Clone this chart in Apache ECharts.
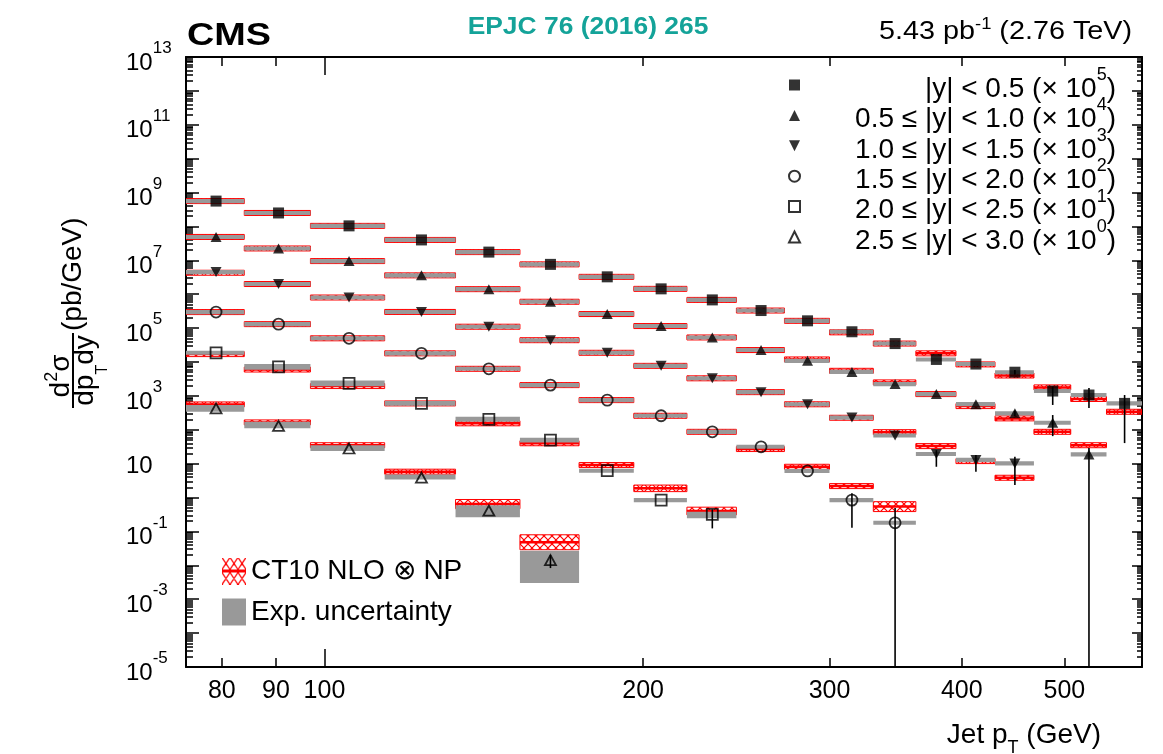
<!DOCTYPE html>
<html><head><meta charset="utf-8">
<script src="https://cdn.jsdelivr.net/npm/echarts@6/dist/echarts.min.js"></script>
<style>html,body{margin:0;padding:0;background:#fff}#c{width:1163px;height:754px}</style>
</head><body><div id="c"></div>
<script>
// ---------------- data ----------------
const binEdges = [74, 84, 97, 114, 133, 153, 174, 196, 220, 245, 272, 300, 330, 362, 395, 430, 468, 507, 548, 592];
const rapidityLabels = ['|y| < 0.5', '0.5 ≤ |y| < 1.0', '1.0 ≤ |y| < 1.5', '1.5 ≤ |y| < 2.0', '2.0 ≤ |y| < 2.5', '2.5 ≤ |y| < 3.0'];
const scaleExponents = [5, 4, 3, 2, 1, 0];
const xTickLabels = [80, 90, 100, 200, 300, 400, 500];
const yTickLabels = [1e-5, 1e-3, 1e-1, 1e1, 1e3, 1e5, 1e7, 1e9, 1e11, 1e13];

// measured d2sigma/dpT dy (pb/GeV), as plotted (already multiplied by the legend factor)
const xsec_y0 = [5.6e8, 2.5e8, 1.04e8, 4.0e7, 1.75e7, 7.6e6, 3.26e6, 1.44e6, 6.8e5, 3.3e5, 1.64e5, 7.8e4, 3.5e4, 1.19e4, 8.7e3, 5.0e3, 1.39e3, 1.06e3, 600];
const xsec_y1 = [4.9e7, 2.24e7, 9.5e6, 3.6e6, 1.41e6, 6.0e5, 2.6e5, 1.15e5, 5.3e4, 2.25e4, 1.08e4, 5.1e3, 2.23e3, 1.13e3, 570, 305, 161, 18.8];
const xsec_y2 = [4.5e6, 2.0e6, 8.0e5, 3.0e5, 1.1e5, 4.4e4, 1.87e4, 7.7e3, 3.3e3, 1.29e3, 565, 229, 67.5, 19.2, 12.9, 10.2];
const xsec_y3 = [2.97e5, 1.31e5, 5.0e4, 1.8e4, 6.3e3, 2.08e3, 750, 259, 87, 31.5, 6.1, 0.84, 0.18];
const xsec_y4 = [1.87e4, 7.2e3, 2.34e3, 600, 204, 49.7, 6.2, 0.84, 0.32];
const xsec_y5 = [428, 131, 28, 3.9, 0.41, 0.0143];

// CT10 NLO x NP prediction (same scaling)
const theory_y0 = [5.6e8, 2.5e8, 1.04e8, 4.0e7, 1.75e7, 7.6e6, 3.26e6, 1.44e6, 6.8e5, 3.3e5, 1.64e5, 7.5e4, 3.5e4, 1.8e4, 8.5e3, 4.0e3, 1.78e3, 810, 340];
const theory_y1 = [4.9e7, 2.24e7, 9.5e6, 3.6e6, 1.41e6, 6.0e5, 2.6e5, 1.15e5, 5.3e4, 2.25e4, 1.19e4, 5.5e3, 2.5e3, 1.13e3, 500, 217, 87, 35];
const theory_y2 = [4.3e6, 2.0e6, 8.0e5, 3.0e5, 1.1e5, 4.4e4, 1.87e4, 7.7e3, 3.3e3, 1.29e3, 565, 226, 85, 33, 11.9, 3.84];
const theory_y3 = [2.97e5, 1.31e5, 5.0e4, 1.8e4, 6.3e3, 2.08e3, 750, 259, 87, 27, 8.1, 2.18, 0.54];
const theory_y4 = [1.71e4, 6.0e3, 1.95e3, 600, 155, 40, 9.1, 1.87, 0.40];
const theory_y5 = [560, 165, 35, 5.8, 0.64, 0.048];

// theory uncertainty (%)
const thUnc_y0 = [5, 5, 5, 5, 5, 5, 5, 5, 5, 5, 5, 5, 5, 8, 8, 8, 8, 8, 10];
const thUnc_y1 = [5, 5, 5, 5, 5, 5, 5, 5, 5, 5, 5, 5, 5, 5, 8, 8, 10, 10];
const thUnc_y2 = [5, 5, 5, 5, 5, 5, 5, 5, 5, 5, 5, 5, 10, 18, 10, 10];
const thUnc_y3 = [5, 5, 5, 5, 5, 5, 5, 5, 5, 8, 8, 12, 40];
const thUnc_y4 = [5, 5, 5, 5, 5, 5, 12, 25, 30];
const thUnc_y5 = [5, 5, 6, 18, 37, 66];

// experimental uncertainty, up / down (%)
const expUp_y0 = [15, 15, 15, 15, 15, 15, 15, 15, 15, 15, 15, 15, 15, 15, 15, 15, 15, 15, 15];
const expDn_y0 = [13, 13, 13, 13, 13, 13, 13, 13, 13, 13, 13, 13, 13, 13, 13, 13, 13, 13, 13];
const expUp_y1 = [15, 15, 15, 15, 15, 15, 15, 15, 15, 15, 15, 15, 15, 15, 15, 15, 15, 15];
const expDn_y1 = [13, 13, 13, 13, 13, 13, 13, 13, 13, 13, 13, 13, 13, 13, 13, 13, 13, 13];
const expUp_y2 = [15, 15, 15, 15, 15, 15, 15, 15, 15, 15, 15, 15, 15, 15, 15, 15];
const expDn_y2 = [13, 13, 13, 13, 13, 13, 13, 13, 13, 13, 13, 13, 13, 13, 13, 13];
const expUp_y3 = [15, 15, 15, 15, 15, 15, 15, 15, 15, 15, 15, 15, 15];
const expDn_y3 = [13, 13, 13, 13, 13, 13, 13, 13, 13, 13, 13, 13, 13];
const expUp_y4 = [15, 22, 22, 18, 18, 18, 15, 15, 19];
const expDn_y4 = [13, 18, 18, 15, 15, 15, 13, 13, 24];
const expUp_y5 = [25, 31, 25, 23, 44, 88];
const expDn_y5 = [21, 16, 15, 13, 36, 79];

// statistical error bars: [rapidity bin, pT bin, low, high]
const statBars = [
  [0, 15, 4300, 5800], [0, 16, 540, 1880], [0, 17, 437, 1700], [0, 18, 40.5, 1060],
  [1, 15, 250, 370], [1, 16, 65, 272], [1, 17, 1e-7, 28.8],
  [2, 13, 8.1, 25], [2, 14, 5.8, 17.9], [2, 15, 2.34, 16],
  [3, 11, 0.128, 1.33], [3, 12, 1e-7, 0.49],
  [4, 8, 0.123, 0.45],
  [5, 5, 0.0083, 0.0201]
];

const xsec = [xsec_y0, xsec_y1, xsec_y2, xsec_y3, xsec_y4, xsec_y5];
const theory = [theory_y0, theory_y1, theory_y2, theory_y3, theory_y4, theory_y5];
const thUnc = [thUnc_y0, thUnc_y1, thUnc_y2, thUnc_y3, thUnc_y4, thUnc_y5];
const expUp = [expUp_y0, expUp_y1, expUp_y2, expUp_y3, expUp_y4, expUp_y5];
const expDn = [expDn_y0, expDn_y1, expDn_y2, expDn_y3, expDn_y4, expDn_y5];

// ---------------- styling ----------------
const FONT = 'Liberation Sans';
const RED = '#ff0000';
const GREY = '#999999';
const markerSymbols = ['rect', 'triangle', 'path://M0,0L2,0L1,2Z', 'circle', 'rect', 'triangle'];
const markerFilled = [true, true, true, false, false, false];
const seriesNames = rapidityLabels.map((l, k) => l + ' (× 10^' + scaleExponents[k] + ')');
const theoryName = 'CT10 NLO ⊗ NP';
const expName = 'Exp. uncertainty';

const binCenters = binEdges.slice(0, -1).map((e, i) => (e + binEdges[i + 1]) / 2);

// hatch pattern
const hatch = document.createElement('canvas');
hatch.width = 8; hatch.height = 8;
(function () {
  const g = hatch.getContext('2d');
  g.strokeStyle = RED; g.lineWidth = 1.2;
  g.beginPath(); g.moveTo(0, 0); g.lineTo(8, 8); g.moveTo(8, 0); g.lineTo(0, 8); g.stroke();
})();
const hatchPattern = { image: hatch, repeat: 'repeat' };

// legend icon for theory
const thIcon = document.createElement('canvas');
thIcon.width = 24; thIcon.height = 27;
(function () {
  const g = thIcon.getContext('2d');
  g.strokeStyle = RED; g.lineWidth = 1.3;
  g.beginPath();
  for (let r = 0; r < 2; r++) {
    const y0 = r === 0 ? 0 : 15;
    for (let c = 0; c < 3; c++) {
      const x0 = c * 8;
      g.moveTo(x0, y0); g.lineTo(x0 + 8, y0 + 12);
      g.moveTo(x0 + 8, y0); g.lineTo(x0, y0 + 12);
    }
  }
  g.stroke();
  g.fillStyle = RED; g.fillRect(0, 12, 24, 3);
})();

// ---------------- derived mark data ----------------
const theoryData = [], expData = [], statData = [];
for (let k = 0; k < 6; k++) {
  for (let i = 0; i < xsec[k].length; i++) {
    const t = theory[k][i], u = thUnc[k][i] / 100;
    theoryData.push([binEdges[i], binEdges[i + 1], t / (1 + u), t * (1 + u), t]);
    const v = xsec[k][i];
    expData.push([binEdges[i], binEdges[i + 1], v * (1 - expDn[k][i] / 100), v * (1 + expUp[k][i] / 100)]);
  }
}
statBars.forEach(b => statData.push([binCenters[b[1]], b[2], b[3]]));

function renderTheory(params, api) {
  const x0 = api.value(0), x1 = api.value(1), lo = api.value(2), hi = api.value(3), c = api.value(4);
  const pA = api.coord([x0, hi]), pB = api.coord([x1, lo]), pC = api.coord([x0, c]);
  let top = pA[1], bot = pB[1];
  if (bot - top < 5) { const m = pC[1]; top = m - 2.5; bot = m + 2.5; }
  return {
    type: 'group', children: [
      { type: 'rect', shape: { x: pA[0], y: top, width: pB[0] - pA[0], height: bot - top }, style: { fill: hatchPattern, stroke: RED, lineWidth: 1 } },
      { type: 'line', shape: { x1: pA[0], y1: pC[1], x2: pB[0], y2: pC[1] }, style: { stroke: RED, lineWidth: 2.5 } }
    ]
  };
}
function renderExp(params, api) {
  const x0 = api.value(0), x1 = api.value(1), lo = api.value(2), hi = api.value(3);
  const pA = api.coord([x0, hi]), pB = api.coord([x1, lo]);
  let top = pA[1], bot = pB[1];
  if (bot - top < 3) { const m = (top + bot) / 2; top = m - 1.5; bot = m + 1.5; }
  return { type: 'rect', shape: { x: pA[0], y: top, width: pB[0] - pA[0], height: bot - top }, style: { fill: GREY } };
}
function renderStat(params, api) {
  const x = api.value(0), lo = api.value(1), hi = api.value(2);
  const p1 = api.coord([x, hi]), p2 = api.coord([x, lo]);
  return { type: 'line', shape: { x1: p1[0], y1: p1[1], x2: p2[0], y2: p2[1] }, style: { stroke: '#000', lineWidth: 1.6 } };
}

// decade & minor tick values (tick positions on log axes)
const decades = [1e-5, 1e-4, 1e-3, 1e-2, 1e-1, 1, 1e1, 1e2, 1e3, 1e4, 1e5, 1e6, 1e7, 1e8, 1e9, 1e10, 1e11, 1e12, 1e13];
const minors = [];
decades.slice(0, -1).forEach(d => { for (let m = 2; m <= 9; m++) minors.push(Number((d * m).toPrecision(3))); });

const xBase = { type: 'log', logBase: 10, min: 74, max: 592, gridIndex: 0, splitLine: { show: false }, axisLabel: { show: false }, axisLine: { show: false, onZero: false } };
const yBase = { type: 'log', logBase: 10, min: 1e-5, max: 1e13, gridIndex: 0, splitLine: { show: false }, axisLabel: { show: false }, axisLine: { show: false, onZero: false } };
const axisLineStyle = { show: true, onZero: false, lineStyle: { color: '#000', width: 2 } };
const tickStyle = { color: '#000', width: 1.5 };

const option = {
  animation: false,
  backgroundColor: '#fff',
  textStyle: { fontFamily: FONT },
  grid: { left: 186, right: 21, top: 57, bottom: 87, containLabel: false, outerBoundsMode: 'none' },
  xAxis: [
    Object.assign({}, xBase, {
      position: 'bottom', axisLine: axisLineStyle,
      axisTick: { show: true, inside: true, length: 9, customValues: [80, 90, 200, 300, 400, 500], lineStyle: tickStyle },
      axisLabel: { show: true, customValues: xTickLabels, fontSize: 25, color: '#000', margin: 12, fontFamily: FONT, formatter: v => String(Math.round(v)) },
      name: '{a|Jet p}{b|T}{a| (GeV)}', nameLocation: 'end', nameGap: -41, nameMoveOverlap: false,
      nameTextStyle: { align: 'right', verticalAlign: 'middle', padding: [136, 0, 0, 0], color: '#000',
        rich: { a: { fontSize: 28, fontFamily: FONT, color: '#000' }, b: { fontSize: 18, fontFamily: FONT, color: '#000', padding: [27, 0, 0, 0] } } }
    }),
    Object.assign({}, xBase, { position: 'bottom', axisTick: { show: true, inside: true, length: 18, customValues: [100], lineStyle: tickStyle } }),
    Object.assign({}, xBase, { position: 'top', axisLine: axisLineStyle, axisTick: { show: true, inside: true, length: 9, customValues: [80, 90, 200, 300, 400, 500], lineStyle: tickStyle } }),
    Object.assign({}, xBase, { position: 'top', axisTick: { show: true, inside: true, length: 18, customValues: [100], lineStyle: tickStyle } })
  ],
  yAxis: [
    Object.assign({}, yBase, {
      position: 'left', axisLine: axisLineStyle,
      axisTick: { show: true, inside: true, length: 13, customValues: decades, lineStyle: tickStyle },
      axisLabel: {
        show: true, customValues: yTickLabels, margin: 60, align: 'left', color: '#000', fontFamily: FONT,
        formatter: v => {
          const e = Math.round(Math.log10(v));
          if (e === 1) return '{c|10}';
          return '{b|10}{s|' + e + '}';
        },
        rich: {
          b: { fontSize: 24, fontFamily: FONT, color: '#000', padding: [12, 0, 0, 0] },
          s: { fontSize: 17, fontFamily: FONT, color: '#000', padding: [0, 0, 17, 0] },
          c: { fontSize: 24, fontFamily: FONT, color: '#000', padding: [6, 0, 0, 0] }
        }
      }
    }),
    Object.assign({}, yBase, { position: 'left', axisTick: { show: true, inside: true, length: 7, customValues: minors, lineStyle: tickStyle } }),
    Object.assign({}, yBase, { position: 'right', axisLine: axisLineStyle, axisTick: { show: true, inside: true, length: 10, customValues: decades, lineStyle: tickStyle } }),
    Object.assign({}, yBase, { position: 'right', axisTick: { show: true, inside: true, length: 5, customValues: minors, lineStyle: tickStyle } })
  ],
  legend: [
    {
      data: seriesNames, orient: 'vertical', left: 783, top: 61, itemWidth: 11, itemHeight: 11, itemGap: -6.6,
      selectedMode: false,
      formatter: name => {
        const k = seriesNames.indexOf(name);
        return '{t|' + rapidityLabels[k] + ' (× 10}{s|' + scaleExponents[k] + '}{t|)}';
      },
      textStyle: {
        width: 311, fontFamily: FONT, color: '#000',
        rich: {
          t: { fontSize: 28, fontFamily: FONT, color: '#000', align: 'right', padding: [8, 0, 0, 0] },
          s: { fontSize: 18, fontFamily: FONT, color: '#000', align: 'right', padding: [0, 0, 20, 0] }
        }
      }
    },
    {
      data: [{ name: theoryName, icon: 'image://' + thIcon.toDataURL() }, { name: expName, icon: 'rect' }],
      orient: 'vertical', left: 217, top: 552, itemWidth: 24, itemHeight: 27, itemGap: 13, selectedMode: false,
      textStyle: { fontSize: 28, fontFamily: FONT, color: '#000' }
    }
  ],
  graphic: [
    { type: 'text', x: 187, y: 36, scaleX: 1.22, style: { text: 'CMS', fill: '#000', font: 'bold 31px "Liberation Sans"', align: 'left', verticalAlign: 'middle', textAlign: 'left', textVerticalAlign: 'middle' } },
    { type: 'text', x: 588, y: 27, scaleX: 1.1, style: { text: 'EPJC 76 (2016) 265', fill: '#14a399', font: 'bold 24px "Liberation Sans"', align: 'center', verticalAlign: 'middle', textAlign: 'center', textVerticalAlign: 'middle' } },
    { type: 'text', x: 1132, y: 32, scaleX: 1.15, style: {
        text: '{a|5.43 pb}{s|-1}{a| (2.76 TeV)}', align: 'right', verticalAlign: 'middle', textAlign: 'right', textVerticalAlign: 'middle',
        rich: { a: { fontSize: 25, fontFamily: FONT, color: '#000' }, s: { fontSize: 16, fontFamily: FONT, color: '#000', padding: [0, 0, 14, 0] } } } },
    { type: 'group', x: 73, y: 408, rotation: Math.PI / 2, children: [
        { type: 'line', shape: { x1: 0, y1: 0, x2: 75, y2: 0 }, style: { stroke: '#000', lineWidth: 2 } },
        { type: 'text', style: { x: 32, y: -11.5, text: '{a|d}{s|2}{a|σ}', align: 'center', verticalAlign: 'middle', textAlign: 'center', textVerticalAlign: 'middle',
            rich: { a: { fontSize: 28, fontFamily: FONT, color: '#000' }, s: { fontSize: 18, fontFamily: FONT, color: '#000', padding: [0, 0, 19, 0] } } } },
        { type: 'text', style: { x: 37.5, y: 12, text: '{a|dp}{b|T}{a|dy}', align: 'center', verticalAlign: 'middle', textAlign: 'center', textVerticalAlign: 'middle',
            rich: { a: { fontSize: 28, fontFamily: FONT, color: '#000' }, b: { fontSize: 16, fontFamily: FONT, color: '#000', padding: [36, 0, 0, 0] } } } },
        { type: 'text', style: { x: 77, y: 0, text: '(pb/GeV)', font: '28px "Liberation Sans"', fill: '#000', align: 'left', verticalAlign: 'middle', textAlign: 'left', textVerticalAlign: 'middle' } }
      ] }
  ],
  series: [
    { type: 'custom', name: theoryName, renderItem: renderTheory, data: theoryData, clip: true, z: 2, silent: true,
      encode: { x: [0, 1], y: [2, 3, 4] }, itemStyle: { color: RED } },
    { type: 'custom', name: expName, renderItem: renderExp, data: expData, clip: true, z: 3, silent: true,
      encode: { x: [0, 1], y: [2, 3] }, itemStyle: { color: GREY } },
    { type: 'custom', name: 'stat', renderItem: renderStat, data: statData, clip: true, z: 4, silent: true,
      encode: { x: 0, y: [1, 2] }, itemStyle: { color: '#000' } }
  ].concat(xsec.map((vals, k) => ({
    type: 'scatter', name: seriesNames[k], z: 5, silent: true,
    data: vals.map((v, i) => [binCenters[i], v]),
    symbol: markerSymbols[k], symbolSize: k === 1 || k === 5 ? [11, 10] : (k === 2 ? [11, 10] : 11),
    itemStyle: markerFilled[k] ? { color: '#000' } : { color: 'rgba(0,0,0,0)', borderColor: '#000', borderWidth: 1.8 }
  })))
};

const chart = echarts.init(document.getElementById('c'));
chart.setOption(option);
</script>
</body></html>
